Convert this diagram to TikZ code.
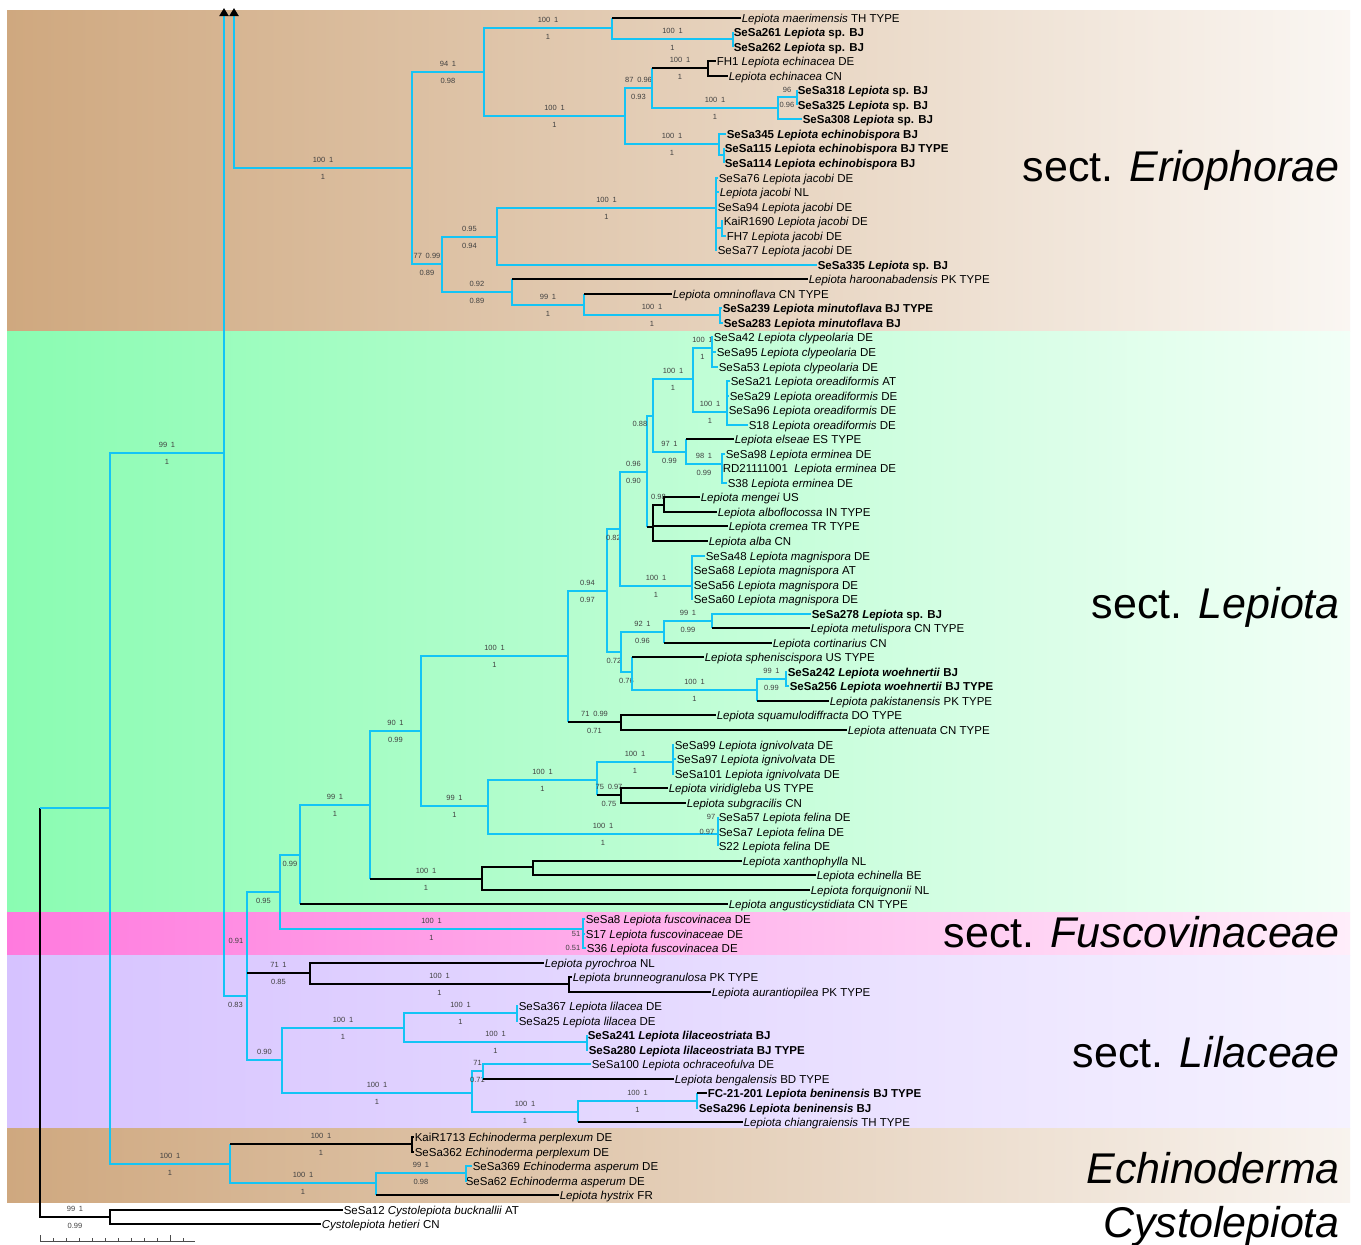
\documentclass[tikz,border=0pt]{standalone}
\usepackage{fontspec}
\setmainfont{Liberation Sans}
\usetikzlibrary{arrows.meta}

\definecolor{branchblue}{RGB}{20,196,245}
\definecolor{eriL}{RGB}{207,168,127}
\definecolor{eriM}{RGB}{238,225,210}
\definecolor{eriR}{RGB}{250,246,242}
\definecolor{lepL}{RGB}{138,252,178}
\definecolor{lepM}{RGB}{215,255,230}
\definecolor{lepR}{RGB}{242,255,247}
\definecolor{fusL}{RGB}{255,122,222}
\definecolor{fusM}{RGB}{255,200,240}
\definecolor{fusR}{RGB}{255,238,250}
\definecolor{lilL}{RGB}{214,194,255}
\definecolor{lilM}{RGB}{232,222,255}
\definecolor{lilR}{RGB}{245,242,255}
\definecolor{echL}{RGB}{207,168,127}
\definecolor{echM}{RGB}{236,222,205}
\definecolor{echR}{RGB}{248,243,238}

\begin{document}
\begin{tikzpicture}[
    x=1pt, y=-1pt,
    bl/.style={draw=branchblue, line width=2pt},
    bk/.style={draw=black, line width=2pt},
    leaf/.style={anchor=west, inner sep=0.6pt, font=\fontsize{11.5}{12}\selectfont, text height=10pt, text depth=1.6pt},
    lbl/.style={inner sep=0.5pt, font=\fontsize{7.5}{8}\selectfont, text=black!75, text height=5.4pt, text depth=0pt},
    abv/.style={lbl, above=3.7pt, pos=.75},
    blw/.style={lbl, below=4.7pt, pos=.75},
    sect/.style={anchor=east, inner sep=0pt, font=\fontsize{43}{43}\selectfont, text height=31pt, text depth=0pt},
    scl/.style={draw=black!70, line width=0.8pt},
    >={Triangle[width=9pt, length=8pt, color=black]}
  ]
  \useasboundingbox (0,0) rectangle (1361,1245);
  \fill[white] (0,0) rectangle (1361,1245);

  % section bands
  \shade[left color=eriL, middle color=eriM, right color=eriR] (7,10) rectangle (1350,331);
  \shade[left color=lepL, middle color=lepM, right color=lepR] (7,331) rectangle (1350,912);
  \shade[left color=fusL, middle color=fusM, right color=fusR] (7,912) rectangle (1350,955);
  \shade[left color=lilL, middle color=lilM, right color=lilR] (7,955) rectangle (1350,1128);
  \shade[left color=echL, middle color=echM, right color=echR] (7,1128) rectangle (1350,1202);

  % internal nodes
  \coordinate (nRoot) at (40,808);
  \coordinate (nA) at (110,808);
  \coordinate (nCy) at (110,1217);
  \coordinate (nB) at (224,453);
  \coordinate (nTopB) at (224,8);
  \coordinate (nTopE) at (234,8);
  \coordinate (nEr) at (412,168);
  \coordinate (nE1) at (484,72);
  \coordinate (nMa) at (612,28);
  \coordinate (nS261) at (733,39);
  \coordinate (nEc) at (625,116);
  \coordinate (nFH) at (652,88);
  \coordinate (nFH1) at (708,68);
  \coordinate (nS318) at (778,108);
  \coordinate (nS3) at (797,97);
  \coordinate (nEb) at (719,144);
  \coordinate (nEb2) at (724,155);
  \coordinate (nE2) at (442,264);
  \coordinate (nJa) at (497,237);
  \coordinate (nJac) at (716,208);
  \coordinate (nJa2) at (722,228);
  \coordinate (nHa) at (512,292);
  \coordinate (nOm) at (584,305);
  \coordinate (nMi) at (720,315);
  \coordinate (nC) at (247,996);
  \coordinate (nF) at (280,892);
  \coordinate (nG) at (300,855);
  \coordinate (nH) at (370,805);
  \coordinate (nI) at (421,731);
  \coordinate (nK) at (568,656);
  \coordinate (nK1) at (607,591);
  \coordinate (nK2) at (620,529);
  \coordinate (nK4) at (647,472);
  \coordinate (nCl) at (653,416);
  \coordinate (nCly) at (693,379);
  \coordinate (nC42) at (712,348);
  \coordinate (nOr) at (727,412);
  \coordinate (nEl) at (686,452);
  \coordinate (nErm) at (722,464);
  \coordinate (nBl) at (653,527);
  \coordinate (nMe) at (664,505);
  \coordinate (nMag) at (692,586);
  \coordinate (nK3) at (621,652);
  \coordinate (nMet) at (664,632);
  \coordinate (nSp) at (712,621);
  \coordinate (nWo) at (632,672);
  \coordinate (nWo2) at (757,690);
  \coordinate (nWo3) at (786,679);
  \coordinate (nSq) at (621,722);
  \coordinate (nIg) at (488,806);
  \coordinate (nIg2) at (597,780);
  \coordinate (nIgv) at (673,762);
  \coordinate (nVir) at (621,795);
  \coordinate (nFe) at (718,834);
  \coordinate (nJ) at (482,879);
  \coordinate (nXa) at (533,867);
  \coordinate (nFu) at (583,929);
  \coordinate (nPy) at (310,973);
  \coordinate (nBr) at (569,984);
  \coordinate (nL) at (282,1060);
  \coordinate (nLi) at (404,1028);
  \coordinate (nLi1) at (517,1013);
  \coordinate (nLi2) at (587,1042);
  \coordinate (nOc) at (472,1093);
  \coordinate (nOc1) at (483,1071);
  \coordinate (nBe) at (578,1112);
  \coordinate (nBe2) at (697,1101);
  \coordinate (nEch) at (230,1164);
  \coordinate (nPe) at (412,1144);
  \coordinate (nAs) at (376,1183);
  \coordinate (nAs2) at (466,1173);

  % leaves: sect. Eriophorae
  \node[leaf] (lMaer) at (741,18) {\textit{Lepiota maerimensis} TH TYPE};
  \node[leaf] (lS261) at (733,32) {\textbf{SeSa261 \textit{Lepiota} sp. BJ}};
  \node[leaf] (lS262) at (733,47) {\textbf{SeSa262 \textit{Lepiota} sp. BJ}};
  \node[leaf] (lFH1) at (716,61) {FH1 \textit{Lepiota echinacea} DE};
  \node[leaf] (lEchCN) at (728,76) {\textit{Lepiota echinacea} CN};
  \node[leaf] (lS318) at (797,90) {\textbf{SeSa318 \textit{Lepiota} sp. BJ}};
  \node[leaf] (lS325) at (797,105) {\textbf{SeSa325 \textit{Lepiota} sp. BJ}};
  \node[leaf] (lS308) at (802,119) {\textbf{SeSa308 \textit{Lepiota} sp. BJ}};
  \node[leaf] (lS345) at (726,134) {\textbf{SeSa345 \textit{Lepiota echinobispora} BJ}};
  \node[leaf] (lS115) at (724,148) {\textbf{SeSa115 \textit{Lepiota echinobispora} BJ TYPE}};
  \node[leaf] (lS114) at (724,163) {\textbf{SeSa114 \textit{Lepiota echinobispora} BJ}};
  \node[leaf] (lS76) at (718,178) {SeSa76 \textit{Lepiota jacobi} DE};
  \node[leaf] (lJacNL) at (719,192) {\textit{Lepiota jacobi} NL};
  \node[leaf] (lS94) at (717,207) {SeSa94 \textit{Lepiota jacobi} DE};
  \node[leaf] (lKai1690) at (723,221) {KaiR1690 \textit{Lepiota jacobi} DE};
  \node[leaf] (lFH7) at (726,236) {FH7 \textit{Lepiota jacobi} DE};
  \node[leaf] (lS77) at (717,250) {SeSa77 \textit{Lepiota jacobi} DE};
  \node[leaf] (lS335) at (817,265) {\textbf{SeSa335 \textit{Lepiota} sp. BJ}};
  \node[leaf] (lHaroon) at (808,279) {\textit{Lepiota haroonabadensis} PK TYPE};
  \node[leaf] (lOmnin) at (672,294) {\textit{Lepiota omninoflava} CN TYPE};
  \node[leaf] (lS239) at (722,308) {\textbf{SeSa239 \textit{Lepiota minutoflava} BJ TYPE}};
  \node[leaf] (lS283) at (723,323) {\textbf{SeSa283 \textit{Lepiota minutoflava} BJ}};

  % leaves: sect. Lepiota
  \node[leaf] (lS42) at (713,337) {SeSa42 \textit{Lepiota clypeolaria} DE};
  \node[leaf] (lS95) at (716,352) {SeSa95 \textit{Lepiota clypeolaria} DE};
  \node[leaf] (lS53) at (718,367) {SeSa53 \textit{Lepiota clypeolaria} DE};
  \node[leaf] (lS21) at (730,381) {SeSa21 \textit{Lepiota oreadiformis} AT};
  \node[leaf] (lS29) at (729,396) {SeSa29 \textit{Lepiota oreadiformis} DE};
  \node[leaf] (lS96) at (728,410) {SeSa96 \textit{Lepiota oreadiformis} DE};
  \node[leaf] (lS18) at (748,425) {S18 \textit{Lepiota oreadiformis} DE};
  \node[leaf] (lElseae) at (734,439) {\textit{Lepiota elseae} ES TYPE};
  \node[leaf] (lS98) at (725,454) {SeSa98 \textit{Lepiota erminea} DE};
  \node[leaf] (lRD) at (722,468) {RD21111001\ \ \textit{Lepiota erminea} DE};
  \node[leaf] (lS38) at (727,483) {S38 \textit{Lepiota erminea} DE};
  \node[leaf] (lMengei) at (700,497) {\textit{Lepiota mengei} US};
  \node[leaf] (lAlbofl) at (717,512) {\textit{Lepiota alboflocossa} IN TYPE};
  \node[leaf] (lCremea) at (728,526) {\textit{Lepiota cremea} TR TYPE};
  \node[leaf] (lAlba) at (708,541) {\textit{Lepiota alba} CN};
  \node[leaf] (lS48) at (705,556) {SeSa48 \textit{Lepiota magnispora} DE};
  \node[leaf] (lS68) at (693,570) {SeSa68 \textit{Lepiota magnispora} AT};
  \node[leaf] (lS56) at (693,585) {SeSa56 \textit{Lepiota magnispora} DE};
  \node[leaf] (lS60) at (693,599) {SeSa60 \textit{Lepiota magnispora} DE};
  \node[leaf] (lS278) at (811,614) {\textbf{SeSa278 \textit{Lepiota} sp. BJ}};
  \node[leaf] (lMetul) at (810,628) {\textit{Lepiota metulispora} CN TYPE};
  \node[leaf] (lCortin) at (772,643) {\textit{Lepiota cortinarius} CN};
  \node[leaf] (lSphen) at (704,657) {\textit{Lepiota spheniscispora} US TYPE};
  \node[leaf] (lS242) at (787,672) {\textbf{SeSa242 \textit{Lepiota woehnertii} BJ}};
  \node[leaf] (lS256) at (789,686) {\textbf{SeSa256 \textit{Lepiota woehnertii} BJ TYPE}};
  \node[leaf] (lPakis) at (829,701) {\textit{Lepiota pakistanensis} PK TYPE};
  \node[leaf] (lSquam) at (716,715) {\textit{Lepiota squamulodiffracta} DO TYPE};
  \node[leaf] (lAtten) at (847,730) {\textit{Lepiota attenuata} CN TYPE};
  \node[leaf] (lS99) at (674,745) {SeSa99 \textit{Lepiota ignivolvata} DE};
  \node[leaf] (lS97) at (676,759) {SeSa97 \textit{Lepiota ignivolvata} DE};
  \node[leaf] (lS101) at (674,774) {SeSa101 \textit{Lepiota ignivolvata} DE};
  \node[leaf] (lVirid) at (668,788) {\textit{Lepiota viridigleba} US TYPE};
  \node[leaf] (lSubgr) at (686,803) {\textit{Lepiota subgracilis} CN};
  \node[leaf] (lS57) at (718,817) {SeSa57 \textit{Lepiota felina} DE};
  \node[leaf] (lS7) at (718,832) {SeSa7 \textit{Lepiota felina} DE};
  \node[leaf] (lS22) at (718,846) {S22 \textit{Lepiota felina} DE};
  \node[leaf] (lXanth) at (742,861) {\textit{Lepiota xanthophylla} NL};
  \node[leaf] (lEchin) at (816,875) {\textit{Lepiota echinella} BE};
  \node[leaf] (lForq) at (810,890) {\textit{Lepiota forquignonii} NL};
  \node[leaf] (lAngu) at (728,904) {\textit{Lepiota angusticystidiata} CN TYPE};

  % leaves: sect. Fuscovinaceae
  \node[leaf] (lS8) at (585,919) {SeSa8 \textit{Lepiota fuscovinacea} DE};
  \node[leaf] (lS17) at (585,934) {S17 \textit{Lepiota fuscovinaceae} DE};
  \node[leaf] (lS36) at (586,948) {S36 \textit{Lepiota fuscovinacea} DE};

  % leaves: sect. Lilaceae
  \node[leaf] (lPyro) at (544,963) {\textit{Lepiota pyrochroa} NL};
  \node[leaf] (lBrunn) at (572,977) {\textit{Lepiota brunneogranulosa} PK TYPE};
  \node[leaf] (lAuran) at (711,992) {\textit{Lepiota aurantiopilea} PK TYPE};
  \node[leaf] (lS367) at (518,1006) {SeSa367 \textit{Lepiota lilacea} DE};
  \node[leaf] (lS25) at (518,1021) {SeSa25 \textit{Lepiota lilacea} DE};
  \node[leaf] (lS241) at (587,1035) {\textbf{SeSa241 \textit{Lepiota lilaceostriata} BJ}};
  \node[leaf] (lS280) at (588,1050) {\textbf{SeSa280 \textit{Lepiota lilaceostriata} BJ TYPE}};
  \node[leaf] (lS100) at (591,1064) {SeSa100 \textit{Lepiota ochraceofulva} DE};
  \node[leaf] (lBengal) at (674,1079) {\textit{Lepiota bengalensis} BD TYPE};
  \node[leaf] (lFC) at (707,1093) {\textbf{FC-21-201 \textit{Lepiota beninensis} BJ TYPE}};
  \node[leaf] (lS296) at (698,1108) {\textbf{SeSa296 \textit{Lepiota beninensis} BJ}};
  \node[leaf] (lChiang) at (743,1122) {\textit{Lepiota chiangraiensis} TH TYPE};

  % leaves: Echinoderma, Cystolepiota
  \node[leaf] (lKai1713) at (414,1137) {KaiR1713 \textit{Echinoderma perplexum} DE};
  \node[leaf] (lS362) at (414,1152) {SeSa362 \textit{Echinoderma perplexum} DE};
  \node[leaf] (lS369) at (472,1166) {SeSa369 \textit{Echinoderma asperum} DE};
  \node[leaf] (lS62) at (465,1181) {SeSa62 \textit{Echinoderma asperum} DE};
  \node[leaf] (lHystrix) at (559,1195) {\textit{Lepiota hystrix} FR};
  \node[leaf] (lS12) at (343,1210) {SeSa12 \textit{Cystolepiota bucknallii} AT};
  \node[leaf] (lHetieri) at (321,1224) {\textit{Cystolepiota hetieri} CN};

  % backbone
  \draw[bk] (nRoot) |- (nCy) node[abv]{99\enspace1} node[blw]{0.99};
  \draw[bl] (nRoot) -- (nA);
  \draw[bl] (nA) |- (nB) node[abv]{99\enspace1} node[blw]{1};
  \draw[bl] (nA) |- (nEch) node[abv]{100\enspace1} node[blw]{1};
  \draw[bl, ->] (nB) -- (nTopB);
  \draw[bl, <-] (nTopE) |- (nEr) node[abv]{100\enspace1} node[blw]{1};
  \draw[bl] (nB) |- (nC) node[blw]{0.83};
  \node[lbl] (pp091) at (236,941) {0.91};
  \draw[bk] (nCy) |- (lS12.west);
  \draw[bk] (nCy) |- (lHetieri.west);

  % sect. Eriophorae
  \draw[bl] (nEr) |- (nE1) node[abv]{94\enspace1} node[blw]{0.98};
  \draw[bl] (nEr) |- (nE2) node[abv]{77\enspace0.99} node[blw]{0.89};
  \draw[bl] (nE1) |- (nMa) node[abv]{100\enspace1} node[blw]{1};
  \draw[bl] (nE1) |- (nEc) node[abv]{100\enspace1} node[blw]{1};
  \draw[bl] (nMa) -- (nMa |- lMaer.west);
  \draw[bk] (nMa |- lMaer.west) -- (lMaer.west);
  \draw[bl] (nMa) |- (nS261) node[abv]{100\enspace1} node[blw]{1};
  \draw[bl] (nS261) |- (lS261.west);
  \draw[bl] (nS261) |- (lS262.west);
  \draw[bl] (nEc) |- (nFH) node[abv]{87\enspace0.96} node[blw]{0.93};
  \draw[bl] (nEc) |- (nEb) node[abv]{100\enspace1} node[blw]{1};
  \draw[bl] (nFH) -- (nFH |- nFH1);
  \draw[bk] (nFH |- nFH1) -- (nFH1) node[abv, pos=.5]{100\enspace1} node[blw, pos=.5]{1};
  \draw[bk] (nFH1) |- (lFH1.west);
  \draw[bk] (nFH1) |- (lEchCN.west);
  \draw[bl] (nFH) |- (nS318) node[abv]{100\enspace1} node[blw]{1};
  \draw[bl] (nS318) |- (nS3);
  \draw[bl] (nS318) |- (lS308.west);
  \draw[bl] (nS3) |- (lS318.west);
  \draw[bl] (nS3) |- (lS325.west);
  \node[lbl] (bs96) at (787,90) {96};
  \node[lbl] (pp096) at (787,105) {0.96};
  \draw[bl] (nEb) |- (lS345.west);
  \draw[bl] (nEb) |- (nEb2);
  \draw[bl] (nEb2) |- (lS115.west);
  \draw[bl] (nEb2) |- (lS114.west);
  \draw[bl] (nE2) |- (nJa) node[abv]{0.95} node[blw]{0.94};
  \draw[bl] (nE2) |- (nHa) node[abv]{0.92} node[blw]{0.89};
  \draw[bl] (nJa) |- (nJac) node[abv]{100\enspace1} node[blw]{1};
  \draw[bl] (nJa) |- (lS335.west);
  \draw[bl] (nJac) |- (lS76.west);
  \draw[bl] (nJac) |- (lJacNL.west);
  \draw[bl] (nJac) |- (lS94.west);
  \draw[bl] (nJac) |- (nJa2);
  \draw[bl] (nJac) |- (lS77.west);
  \draw[bl] (nJa2) |- (lKai1690.west);
  \draw[bl] (nJa2) |- (lFH7.west);
  \draw[bl] (nHa) -- (nHa |- lHaroon.west);
  \draw[bk] (nHa |- lHaroon.west) -- (lHaroon.west);
  \draw[bl] (nHa) |- (nOm) node[abv]{99\enspace1} node[blw]{1};
  \draw[bl] (nOm) -- (nOm |- lOmnin.west);
  \draw[bk] (nOm |- lOmnin.west) -- (lOmnin.west);
  \draw[bl] (nOm) |- (nMi) node[abv]{100\enspace1} node[blw]{1};
  \draw[bl] (nMi) |- (lS239.west);
  \draw[bl] (nMi) |- (lS283.west);

  % sect. Lepiota and Fuscovinaceae
  \draw[bl] (nC) |- (nF) node[blw]{0.95};
  \draw[bl] (nC) -- (nC |- nPy);
  \draw[bk] (nC |- nPy) -- (nPy) node[abv, pos=.5]{71\enspace1} node[blw, pos=.5]{0.85};
  \draw[bl] (nC) |- (nL) node[abv]{0.90};
  \draw[bl] (nF) |- (nG) node[blw]{0.99};
  \draw[bl] (nF) |- (nFu) node[abv]{100\enspace1} node[blw]{1};
  \draw[bl] (nG) |- (nH) node[abv]{99\enspace1} node[blw]{1};
  \draw[bl] (nG) -- (nG |- lAngu.west);
  \draw[bk] (nG |- lAngu.west) -- (lAngu.west);
  \draw[bl] (nH) |- (nI) node[abv]{90\enspace1} node[blw]{0.99};
  \draw[bl] (nH) -- (nH |- nJ);
  \draw[bk] (nH |- nJ) -- (nJ) node[abv, pos=.5]{100\enspace1} node[blw, pos=.5]{1};
  \draw[bk] (nJ) |- (nXa);
  \draw[bk] (nJ) |- (lForq.west);
  \draw[bk] (nXa) |- (lXanth.west);
  \draw[bk] (nXa) |- (lEchin.west);
  \draw[bl] (nI) |- (nK) node[abv]{100\enspace1} node[blw]{1};
  \draw[bl] (nI) |- (nIg) node[abv]{99\enspace1} node[blw]{1};
  \draw[bl] (nK) |- (nK1) node[abv]{0.94} node[blw]{0.97};
  \draw[bl] (nK) -- (nK |- nSq);
  \draw[bk] (nK |- nSq) -- (nSq) node[abv, pos=.5]{71\enspace0.99} node[blw, pos=.5]{0.71};
  \draw[bk] (nSq) |- (lSquam.west);
  \draw[bk] (nSq) |- (lAtten.west);
  \draw[bl] (nK1) |- (nK2) node[blw]{0.82};
  \draw[bl] (nK1) |- (nK3) node[blw]{0.72};
  \draw[bl] (nK2) |- (nK4) node[abv]{0.96} node[blw]{0.90};
  \draw[bl] (nK2) |- (nMag) node[abv]{100\enspace1} node[blw]{1};
  \draw[bl] (nK4) |- (nCl);
  \node[lbl] (pp088) at (640,424) {0.88};
  \draw[bl] (nK4) -- (nK4 |- nBl);
  \draw[bk] (nK4 |- nBl) -- (nBl);
  \draw[bk] (nBl) |- (nMe) node[abv]{0.98};
  \draw[bk] (nBl) |- (lCremea.west);
  \draw[bk] (nBl) |- (lAlba.west);
  \draw[bk] (nMe) |- (lMengei.west);
  \draw[bk] (nMe) |- (lAlbofl.west);
  \draw[bl] (nCl) |- (nCly) node[abv]{100\enspace1} node[blw]{1};
  \draw[bl] (nCl) |- (nEl) node[abv]{97\enspace1} node[blw]{0.99};
  \draw[bl] (nCly) |- (nC42) node[abv]{100\enspace1} node[blw]{1};
  \draw[bl] (nCly) |- (nOr) node[abv]{100\enspace1} node[blw]{1};
  \draw[bl] (nC42) |- (lS42.west);
  \draw[bl] (nC42) |- (lS95.west);
  \draw[bl] (nC42) |- (lS53.west);
  \draw[bl] (nOr) |- (lS21.west);
  \draw[bl] (nOr) |- (lS29.west);
  \draw[bl] (nOr) |- (lS96.west);
  \draw[bl] (nOr) |- (lS18.west);
  \draw[bl] (nEl) -- (nEl |- lElseae.west);
  \draw[bk] (nEl |- lElseae.west) -- (lElseae.west);
  \draw[bl] (nEl) |- (nErm) node[abv]{98\enspace1} node[blw]{0.99};
  \draw[bl] (nErm) |- (lS98.west);
  \draw[bl] (nErm) |- (lRD.west);
  \draw[bl] (nErm) |- (lS38.west);
  \draw[bl] (nMag) |- (lS48.west);
  \draw[bl] (nMag) |- (lS68.west);
  \draw[bl] (nMag) |- (lS56.west);
  \draw[bl] (nMag) |- (lS60.west);
  \draw[bl] (nK3) |- (nMet) node[abv]{92\enspace1} node[blw]{0.96};
  \draw[bl] (nK3) |- (nWo) node[blw]{0.76};
  \draw[bl] (nMet) |- (nSp) node[abv]{99\enspace1} node[blw]{0.99};
  \draw[bl] (nMet) -- (nMet |- lCortin.west);
  \draw[bk] (nMet |- lCortin.west) -- (lCortin.west);
  \draw[bl] (nSp) |- (lS278.west);
  \draw[bl] (nSp) -- (nSp |- lMetul.west);
  \draw[bk] (nSp |- lMetul.west) -- (lMetul.west);
  \draw[bl] (nWo) -- (nWo |- lSphen.west);
  \draw[bk] (nWo |- lSphen.west) -- (lSphen.west);
  \draw[bl] (nWo) |- (nWo2) node[abv]{100\enspace1} node[blw]{1};
  \draw[bl] (nWo2) |- (nWo3) node[abv]{99\enspace1} node[blw]{0.99};
  \draw[bl] (nWo2) -- (nWo2 |- lPakis.west);
  \draw[bk] (nWo2 |- lPakis.west) -- (lPakis.west);
  \draw[bl] (nWo3) |- (lS242.west);
  \draw[bl] (nWo3) |- (lS256.west);
  \draw[bl] (nIg) |- (nIg2) node[abv]{100\enspace1} node[blw]{1};
  \draw[bl] (nIg) |- (nFe) node[abv]{100\enspace1} node[blw]{1};
  \draw[bl] (nIg2) |- (nIgv) node[abv]{100\enspace1} node[blw]{1};
  \draw[bl] (nIg2) -- (nIg2 |- nVir);
  \draw[bk] (nIg2 |- nVir) -- (nVir) node[abv, pos=.5]{75\enspace0.97} node[blw, pos=.5]{0.75};
  \draw[bk] (nVir) |- (lVirid.west);
  \draw[bk] (nVir) |- (lSubgr.west);
  \draw[bl] (nIgv) |- (lS99.west);
  \draw[bl] (nIgv) |- (lS97.west);
  \draw[bl] (nIgv) |- (lS101.west);
  \draw[bl] (nFe) |- (lS57.west);
  \draw[bl] (nFe) |- (lS7.west);
  \draw[bl] (nFe) |- (lS22.west);
  \node[lbl] (bs97) at (711,817) {97};
  \node[lbl] (pp097) at (707,832) {0.97};
  \draw[bl] (nFu) |- (lS8.west);
  \draw[bl] (nFu) |- (lS17.west);
  \draw[bl] (nFu) |- (lS36.west);
  \node[lbl] (bs51) at (576,934) {51};
  \node[lbl] (pp051) at (573,948) {0.51};

  % sect. Lilaceae
  \draw[bk] (nPy) |- (lPyro.west);
  \draw[bk] (nPy) |- (nBr) node[abv]{100\enspace1} node[blw]{1};
  \draw[bk] (nBr) |- (lBrunn.west);
  \draw[bk] (nBr) |- (lAuran.west);
  \draw[bl] (nL) |- (nLi) node[abv]{100\enspace1} node[blw]{1};
  \draw[bl] (nL) |- (nOc) node[abv]{100\enspace1} node[blw]{1};
  \draw[bl] (nLi) |- (nLi1) node[abv]{100\enspace1} node[blw]{1};
  \draw[bl] (nLi) |- (nLi2) node[abv]{100\enspace1} node[blw]{1};
  \draw[bl] (nLi1) |- (lS367.west);
  \draw[bl] (nLi1) |- (lS25.west);
  \draw[bl] (nLi2) |- (lS241.west);
  \draw[bl] (nLi2) |- (lS280.west);
  \draw[bl] (nOc) |- (nOc1) node[abv]{71} node[blw]{0.71};
  \draw[bl] (nOc) |- (nBe) node[abv]{100\enspace1} node[blw]{1};
  \draw[bl] (nOc1) |- (lS100.west);
  \draw[bl] (nOc1) -- (nOc1 |- lBengal.west);
  \draw[bk] (nOc1 |- lBengal.west) -- (lBengal.west);
  \draw[bl] (nBe) |- (nBe2) node[abv]{100\enspace1} node[blw]{1};
  \draw[bl] (nBe) -- (nBe |- lChiang.west);
  \draw[bk] (nBe |- lChiang.west) -- (lChiang.west);
  \draw[bl] (nBe2) -- (nBe2 |- lFC.west);
  \draw[bk] (nBe2 |- lFC.west) -- (lFC.west);
  \draw[bl] (nBe2) |- (lS296.west);

  % Echinoderma
  \draw[bl] (nEch) -- (nEch |- nPe);
  \draw[bk] (nEch |- nPe) -- (nPe) node[abv, pos=.5]{100\enspace1} node[blw, pos=.5]{1};
  \draw[bk] (nPe) |- (lKai1713.west);
  \draw[bk] (nPe) |- (lS362.west);
  \draw[bl] (nEch) |- (nAs) node[abv]{100\enspace1} node[blw]{1};
  \draw[bl] (nAs) |- (nAs2) node[abv]{99\enspace1} node[blw]{0.98};
  \draw[bl] (nAs) -- (nAs |- lHystrix.west);
  \draw[bk] (nAs |- lHystrix.west) -- (lHystrix.west);
  \draw[bl] (nAs2) |- (lS369.west);
  \draw[bl] (nAs2) |- (lS62.west);

  % section names
  \node[sect] (secEri) at (1340,166) {sect. \textit{Eriophorae}};
  \node[sect] (secLep) at (1340,603) {sect. \textit{Lepiota}};
  \node[sect] (secFus) at (1340,932) {sect. \textit{Fuscovinaceae}};
  \node[sect] (secLil) at (1340,1052) {sect. \textit{Lilaceae}};
  \node[sect] (secEch) at (1340,1168) {\textit{Echinoderma}};
  \node[sect] (secCys) at (1340,1222) {\textit{Cystolepiota}};

  % scale bar
  \draw[scl] (40,1241) -- (195,1241);
  \foreach \t in {1,...,11} \draw[scl] ({40+13*\t},1241) -- ({40+13*\t},1238);
  \draw[scl] (40,1241) -- (40,1235);
  \draw[scl] (170,1241) -- (170,1235);
\end{tikzpicture}
\end{document}
